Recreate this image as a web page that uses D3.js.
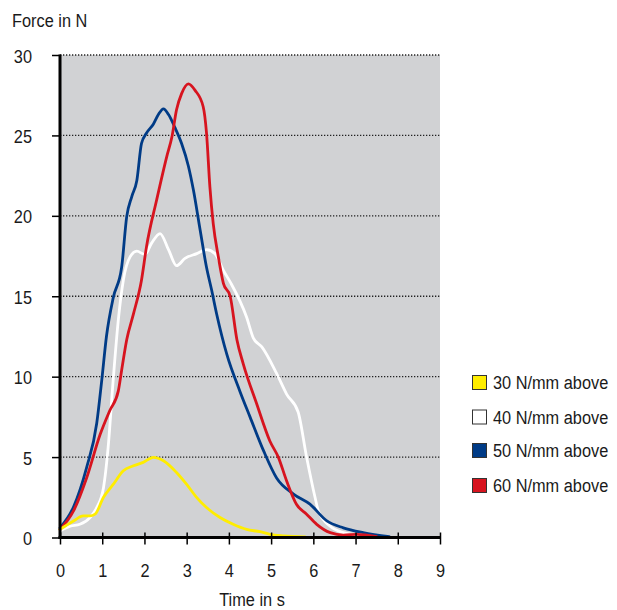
<!DOCTYPE html>
<html>
<head>
<meta charset="utf-8">
<script src="https://cdn.jsdelivr.net/npm/d3@7"></script>
<style>
  html, body { margin: 0; padding: 0; background: #fff; }
  svg { display: block; }
  text { font-family: "Liberation Sans", Arial, sans-serif; fill: #1a1a1a; }
</style>
</head>
<body>
<svg id="chart" width="617" height="610"></svg>
<script>
// ---- data ----
const xTicks = [0, 1, 2, 3, 4, 5, 6, 7, 8, 9];
const yTicks = [0, 5, 10, 15, 20, 25, 30];
const seriesNames = ["30 N/mm above", "40 N/mm above", "50 N/mm above", "60 N/mm above"];
const seriesColors = ["#ffed00", "#ffffff", "#003b86", "#d7141f"];

const t30 = [0, 0.32, 0.55, 0.71, 0.83, 1.03, 1.26, 1.5, 1.74, 1.97, 2.21, 2.45, 2.76, 3.0, 3.24, 3.47, 3.79, 4.1, 4.42, 4.74, 4.97, 5.3, 5.8];
const f30 = [0.5, 1.03, 1.34, 1.34, 1.45, 2.5, 3.3, 4.15, 4.46, 4.67, 4.98, 4.77, 4.04, 3.3, 2.48, 1.86, 1.24, 0.82, 0.5, 0.36, 0.2, 0.1, 0.03];

const t40 = [0, 0.24, 0.47, 0.71, 0.87, 1.03, 1.14, 1.26, 1.38, 1.5, 1.66, 1.82, 2.01, 2.17, 2.37, 2.57, 2.76, 2.96, 3.24, 3.47, 3.67, 3.87, 4.05, 4.42, 4.58, 4.78, 5.13, 5.37, 5.64, 5.84, 6.04, 6.12, 6.4, 6.71, 7.03, 7.5];
const f40 = [0.4, 0.7, 0.82, 1.24, 1.86, 3.1, 5.6, 9.8, 13.5, 16.0, 17.45, 17.8, 17.6, 18.3, 18.9, 17.9, 16.9, 17.35, 17.65, 17.9, 17.65, 16.6, 15.8, 13.7, 12.4, 11.85, 10.2, 8.9, 7.8, 5.0, 2.5, 1.65, 0.7, 0.3, 0.15, 0.05];

const t50 = [0, 0.32, 0.63, 0.87, 0.99, 1.1, 1.26, 1.46, 1.58, 1.7, 1.82, 1.93, 2.05, 2.21, 2.33, 2.45, 2.57, 2.72, 2.88, 3.04, 3.16, 3.32, 3.47, 3.59, 3.71, 3.95, 4.26, 4.5, 4.82, 5.13, 5.53, 5.92, 6.32, 6.71, 7.18, 7.8];
const f50 = [0.6, 1.9, 4.35, 7.1, 9.8, 12.5, 14.9, 16.8, 19.95, 21.2, 22.2, 24.5, 25.15, 25.7, 26.3, 26.65, 26.3, 25.5, 24.5, 23.1, 21.6, 19.1, 16.8, 15.4, 13.9, 11.4, 9.1, 7.5, 5.4, 3.7, 2.7, 2.07, 1.03, 0.6, 0.3, 0.05];

const t60 = [0, 0.32, 0.63, 0.95, 1.18, 1.38, 1.46, 1.58, 1.74, 1.93, 2.05, 2.29, 2.53, 2.65, 2.76, 2.88, 3.04, 3.2, 3.39, 3.47, 3.55, 3.63, 3.75, 3.87, 4.03, 4.19, 4.34, 4.66, 4.97, 5.17, 5.37, 5.6, 5.84, 6.08, 6.4, 6.71, 7.03, 7.5];
const f60 = [0.5, 1.65, 3.7, 6.4, 7.9, 9.1, 10.4, 12.3, 13.9, 16.0, 18.1, 21.0, 23.7, 24.9, 26.6, 27.6, 28.2, 27.8, 26.8, 25.15, 21.8, 19.5, 17.45, 15.8, 15.0, 12.3, 10.8, 8.3, 6.0, 5.0, 3.5, 2.07, 1.45, 0.82, 0.3, 0.15, 0.2, 0.05];

const seriesT = [t30, t40, t50, t60];
const seriesF = [f30, f40, f50, f60];
const drawOrder = [1, 2, 3, 0];

// ---- layout ----
const svg = d3.select("#chart");
const x = d3.scaleLinear().domain([0, 9]).range([60, 440]);
const y = d3.scaleLinear().domain([0, 30]).range([537.5, 55]);
const FS = 19;       // font size
const CONDENSE = 0.86;

function condense(sel) {
  sel.each(function () {
    const t = d3.select(this);
    const xv = +t.attr("x") || 0, yv = +t.attr("y") || 0;
    t.attr("x", 0).attr("y", 0)
      .attr("transform", `translate(${xv},${yv}) scale(${CONDENSE},1)`);
  });
}

// background
svg.append("rect")
  .attr("x", x(0)).attr("y", y(30))
  .attr("width", x(9) - x(0)).attr("height", y(0) - y(30))
  .attr("fill", "#d1d2d4");

// gridlines
svg.append("g").selectAll("line")
  .data(yTicks.filter(d => d > 0))
  .join("line")
  .attr("x1", x(0)).attr("x2", x(9))
  .attr("y1", d => y(d)).attr("y2", d => y(d))
  .attr("stroke", "#222").attr("stroke-width", 1.3)
  .attr("stroke-dasharray", "1.3,1.7");

// lines
const line = d3.line().curve(d3.curveMonotoneX);
const linesG = svg.append("g");
drawOrder.forEach(i => {
  const pts = seriesT[i].map((t, k) => [x(t), y(seriesF[i][k])]);
  linesG.append("path")
    .attr("d", line(pts))
    .attr("fill", "none")
    .attr("stroke", seriesColors[i])
    .attr("stroke-width", 2.8)
    .attr("stroke-linejoin", "round")
    .attr("stroke-linecap", "round");
});

// y axis
const yAxis = d3.axisLeft(y).tickValues(yTicks).tickSize(8).tickPadding(20);
const yg = svg.append("g").attr("transform", `translate(${x(0)},0)`).call(yAxis);
yg.select(".domain").remove();
yg.selectAll(".tick line").attr("stroke", "#000").attr("stroke-width", 1.5);
yg.selectAll(".tick text").attr("font-size", FS).attr("dy", null)
  .attr("font-family", null).attr("fill", "#1a1a1a")
  .attr("x", -28).attr("y", 7);
condense(yg.selectAll(".tick text"));
svg.append("line").attr("x1", x(0)).attr("x2", x(0))
  .attr("y1", y(30) - 0.5).attr("y2", y(0) + 1.5)
  .attr("stroke", "#000").attr("stroke-width", 3);

// x axis
const xAxis = d3.axisBottom(x).tickValues(xTicks).tickSize(7).tickPadding(20).tickFormat(d3.format("d"));
const xg = svg.append("g").attr("transform", `translate(0,${y(0)})`).call(xAxis);
xg.select(".domain").remove();
xg.selectAll(".tick line").attr("stroke", "#000").attr("stroke-width", 1.5).attr("y1", -5);
xg.selectAll(".tick text").attr("font-size", FS).attr("dy", null)
  .attr("font-family", null).attr("fill", "#1a1a1a")
  .attr("y", 39.5);
condense(xg.selectAll(".tick text"));
svg.append("line").attr("x1", x(0) - 1.5).attr("x2", x(9))
  .attr("y1", y(0)).attr("y2", y(0))
  .attr("stroke", "#000").attr("stroke-width", 3);

// titles
const titles = svg.append("g");
titles.append("text").attr("x", 12).attr("y", 27).attr("font-size", FS).text("Force in N");
titles.append("text").attr("x", 252).attr("y", 606).attr("text-anchor", "middle").attr("font-size", FS).text("Time in s");
condense(titles.selectAll("text"));

// legend
const legY = [375, 409.5, 443, 478];
const leg = svg.append("g").selectAll("g").data(seriesNames).join("g")
  .attr("transform", (d, i) => `translate(472,${legY[i]})`);
leg.append("rect").attr("x", 0.5).attr("y", 0.5).attr("width", 14).attr("height", 14)
  .attr("fill", (d, i) => seriesColors[i]).attr("stroke", "#333").attr("stroke-width", 1);
leg.append("text").attr("x", 21).attr("y", 14).attr("font-size", FS).text(d => d);
condense(leg.selectAll("text"));
</script>
</body>
</html>
